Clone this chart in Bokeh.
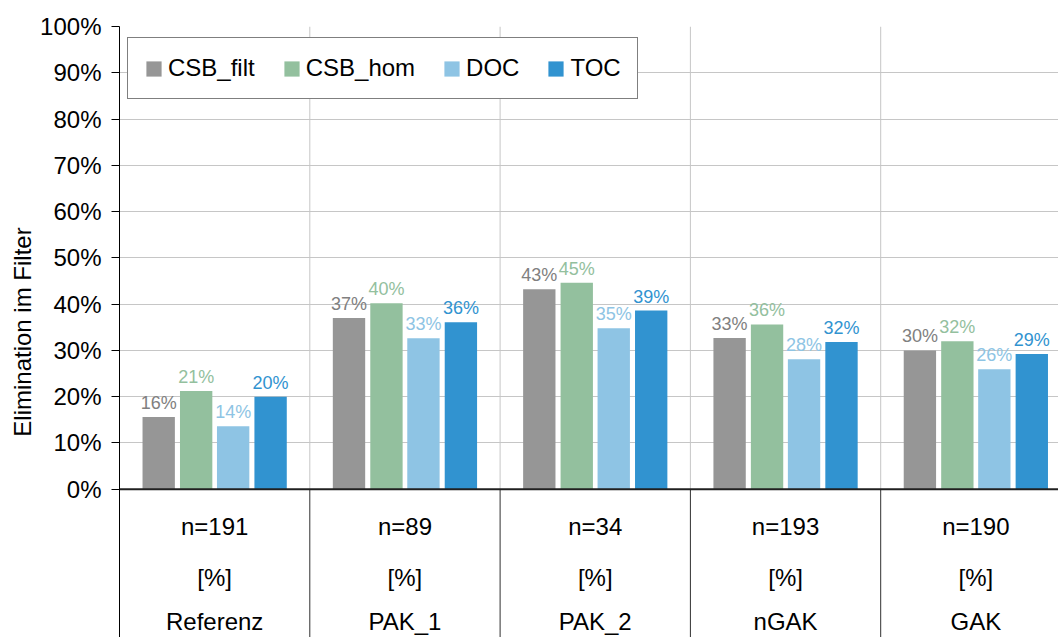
import numpy as np
from bokeh.plotting import figure
from bokeh.models import (Range1d, FixedTicker, Legend, LegendItem, ColumnDataSource,
                          CustomJSTickFormatter)
from bokeh.core.properties import value
from bokeh.embed import file_html
from bokeh.resources import INLINE

# ---------------- data ----------------
categories = ["Referenz", "PAK_1", "PAK_2", "nGAK", "GAK"]
n_counts = [191, 89, 34, 193, 190]
unit_row = ["[%]", "[%]", "[%]", "[%]", "[%]"]
series_names = ["CSB_filt", "CSB_hom", "DOC", "TOC"]
csb_filt = [15.6, 37.0, 43.2, 32.7, 30.0]
csb_hom = [21.2, 40.2, 44.6, 35.6, 32.0]
doc = [13.6, 32.6, 34.8, 28.1, 25.9]
toc = [20.0, 36.1, 38.6, 31.8, 29.2]
y_ticks = [0, 10, 20, 30, 40, 50, 60, 70, 80, 90, 100]

# ---------------- styles ----------------
bar_colors = ["#969696", "#93c09e", "#8ec4e4", "#3193d0"]
label_colors = ["#808080", "#93c09e", "#8ec4e4", "#3193d0"]
offsets = [-0.294, -0.0972, 0.0972, 0.294]
bar_w = 0.17
FONT = "Liberation Sans"

W, H = 1058, 637
left_b, top_b = 119, 26
frame_w = W - left_b
frame_h = H - top_b
px_per_cat = 190.3
px_per_pct = 4.627
x_end = frame_w / px_per_cat
y_start = 100 - frame_h / px_per_pct

p = figure(width=W, height=H, output_backend="svg", toolbar_location=None,
           x_range=Range1d(0, x_end), y_range=Range1d(y_start, 100),
           min_border_left=left_b, min_border_top=top_b, min_border_right=0,
           min_border_bottom=0)
p.outline_line_color = None
p.background_fill_color = "white"
p.border_fill_color = "white"
p.xaxis.visible = False
p.xgrid.visible = False

# y axis
yax = p.yaxis[0]
yax.ticker = FixedTicker(ticks=y_ticks)
yax.formatter = CustomJSTickFormatter(code="return tick.toFixed(0) + '%';")
yax.major_label_text_font = FONT
yax.major_label_text_font_size = "24px"
yax.major_label_text_color = "black"
yax.major_label_standoff = 10
yax.major_tick_out = 8
yax.major_tick_in = 0
yax.minor_tick_out = 0
yax.minor_tick_in = 0
yax.axis_line_color = "black"
yax.axis_line_width = 1
yax.major_tick_line_color = "black"
yax.axis_label = "Elimination im Filter"
yax.axis_label_text_font = FONT
yax.axis_label_text_font_size = "24px"
yax.axis_label_text_font_style = "normal"
yax.axis_label_text_color = "black"
yax.axis_label_standoff = 1

p.ygrid.ticker = FixedTicker(ticks=y_ticks[1:])
p.ygrid.grid_line_color = "#c6c6c6"
p.ygrid.grid_line_width = 1

ncat = len(categories)
centers = np.arange(ncat) + 0.5
bounds = np.arange(1, ncat + 1)

# vertical separators: gray in chart, dark in table
p.segment(x0=bounds, y0=[0] * ncat, x1=bounds, y1=[100] * ncat,
          line_color="#c6c6c6", line_width=1)
p.segment(x0=bounds, y0=[y_start] * ncat, x1=bounds, y1=[0] * ncat,
          line_color="#303030", line_width=1)

# bars
series = [csb_filt, csb_hom, doc, toc]
renderers = []
for vals, col, lcol, off in zip(series, bar_colors, label_colors, offsets):
    src = ColumnDataSource(dict(x=centers + off, top=vals,
                                lab=[f"{int(v + 0.5)}%" for v in vals]))
    r = p.vbar(x="x", top="top", bottom=0, width=bar_w, source=src,
               fill_color=col, line_color=None)
    renderers.append(r)
    p.text(x="x", y="top", text="lab", source=src, text_align="center",
           text_baseline="alphabetic", y_offset=-14, text_color=lcol,
           text_font=value(FONT), text_font_size="18px")

# x axis line at 0
p.segment(x0=[0], y0=[0], x1=[x_end], y1=[0], line_color="#202020", line_width=2)

# table rows
tsrc = ColumnDataSource(dict(x=centers, n=[f"n={n}" for n in n_counts],
                             u=unit_row, c=categories))
for col, yv in (("n", -8.06), ("u", -19.1), ("c", -28.7)):
    p.text(x="x", y=yv, text=col, source=tsrc, text_align="center",
           text_baseline="middle", text_color="black",
           text_font=value(FONT), text_font_size="24px")

legend = Legend(items=[LegendItem(label=n, renderers=[r]) for n, r in zip(series_names, renderers)],
                orientation="horizontal", location=(8, frame_h - 14 - 59))
legend.label_text_font = FONT
legend.label_text_font_size = "24px"
legend.label_text_color = "black"
legend.glyph_width = 19
legend.glyph_height = 19
legend.label_standoff = 5
legend.spacing = 27
legend.padding = 16
legend.margin = 0
legend.border_line_color = "black"
legend.border_line_width = 1
legend.background_fill_color = "white"
legend.background_fill_alpha = 1
p.add_layout(legend, "center")

open("out.html", "w").write(file_html(p, INLINE))
